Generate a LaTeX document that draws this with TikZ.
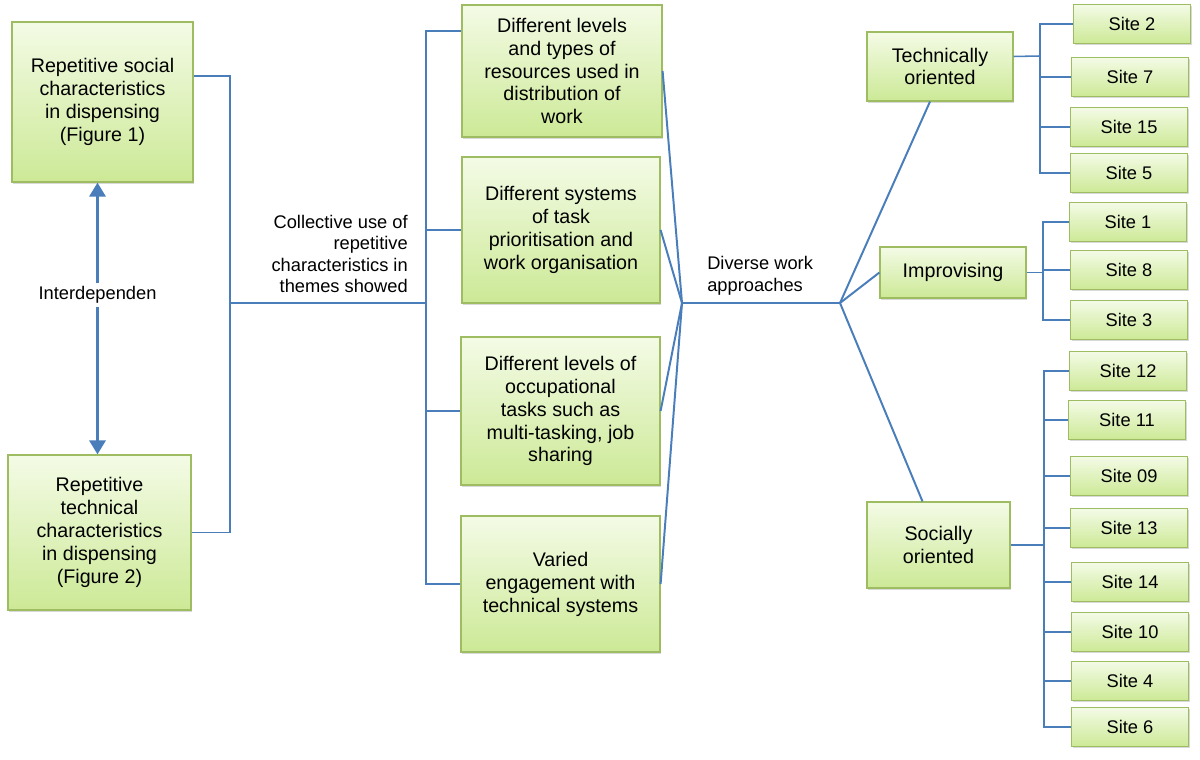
\documentclass[tikz,border=0pt]{standalone}
\usepackage{fontspec}
\setmainfont{Liberation Sans}
\usepackage{xcolor}
\usepackage{tikz}
\usetikzlibrary{shadows,arrows.meta}

\definecolor{boxtop}{RGB}{244,251,230}
\definecolor{boxbot}{RGB}{204,233,150}
\definecolor{boxline}{RGB}{158,188,98}
\definecolor{link}{RGB}{74,126,187}

\begin{document}
\begin{tikzpicture}[x=0.025cm, y=-0.025cm,
    greenbox/.style={draw=boxline, line width=0.8pt, top color=boxtop, bottom color=boxbot,
        drop shadow={opacity=0.3, shadow xshift=0.8pt, shadow yshift=-1.2pt},
        align=center, inner sep=2pt, font=\fontsize{14}{16.3}\selectfont},
    sitebox/.style={greenbox, minimum width=2.925cm, minimum height=0.975cm, font=\fontsize{13}{15}\selectfont},
    lbl/.style={font=\fontsize{13}{15.3}\selectfont},
    wire/.style={link, line width=1.1pt},
    spoke/.style={link, line width=1.4pt},
    both/.style={link, line width=2.2pt, -{Triangle[width=0.4cm,length=0.35cm]}}]
            \useasboundingbox (0,0) rectangle (1200,760);

            % left column
            \node at (102.5,102) [greenbox, minimum width=4.525cm, minimum height=4cm] (l1) {Repetitive social\\characteristics\\in dispensing\\(Figure 1)};
            \node at (99.5,532.5) [greenbox, minimum width=4.575cm, minimum height=3.875cm] (l2) {Repetitive\\technical\\characteristics\\in dispensing\\(Figure 2)};
            \node at (97.5,295) [lbl, fill=white, inner sep=2pt] (idp) {Interdependen};
            \node at (408,254) [lbl, anchor=east, align=right, inner sep=0pt] (cu) {Collective use of\\repetitive\\characteristics in\\themes showed};

            % themes
            \node at (562,71) [greenbox, minimum width=5cm, minimum height=3.3cm] (m1) {Different levels\\and types of\\resources used in\\distribution of\\work};
            \node at (561,230) [greenbox, minimum width=4.95cm, minimum height=3.65cm] (m2) {Different systems\\of task\\prioritisation and\\work organisation};
            \node at (560.5,411) [greenbox, minimum width=4.975cm, minimum height=3.7cm] (m3) {Different levels of\\occupational\\tasks such as\\multi-tasking, job\\sharing};
            \node at (560.5,584) [greenbox, minimum width=4.975cm, minimum height=3.4cm] (m4) {Varied\\engagement with\\technical systems};
            \node at (707,276) [lbl, anchor=west, align=left, inner sep=0pt] (dw) {Diverse work\\approaches};

            % approaches
            \node at (940,66.5) [greenbox, minimum width=3.65cm, minimum height=1.725cm] (tech) {Technically\\oriented};
            \node at (953,272.5) [greenbox, minimum width=3.65cm, minimum height=1.275cm] (imp) {Improvising};
            \node at (938.5,545) [greenbox, minimum width=3.575cm, minimum height=2.15cm] (soc) {Socially\\oriented};

            % sites
            \node at (1132,24) [sitebox] (s2) {Site 2};
            \node at (1130,77) [sitebox] (s7) {Site 7};
            \node at (1129,127) [sitebox] (s15) {Site 15};
            \node at (1129,173) [sitebox] (s5) {Site 5};
            \node at (1128,222) [sitebox] (s1) {Site 1};
            \node at (1129,270) [sitebox] (s8) {Site 8};
            \node at (1129,320) [sitebox] (s3) {Site 3};
            \node at (1128,371) [sitebox] (s12) {Site 12};
            \node at (1127,420) [sitebox] (s11) {Site 11};
            \node at (1129,476) [sitebox] (s09) {Site 09};
            \node at (1129,528) [sitebox] (s13) {Site 13};
            \node at (1130,582) [sitebox] (s14) {Site 14};
            \node at (1130,632) [sitebox] (s10) {Site 10};
            \node at (1130,681) [sitebox] (s4) {Site 4};
            \node at (1130,727) [sitebox] (s6) {Site 6};

            \coordinate (ja) at (230,303);
            \coordinate (jb) at (426,303);
            \coordinate (jc) at (682,303);
            \coordinate (jd) at (840,303);
            \coordinate (tb) at (1040,56);
            \coordinate (ib) at (1043,272.5);
            \coordinate (sb) at (1044,545);

            \draw[both] (idp) -- (idp |- l1.south);
            \draw[both] (idp) -- (idp |- l2.north);

            \draw[wire] ([yshift=0.65cm]l1.east) -| (ja) |- (l2.east);
            \draw[wire] (ja) -- (jb);
            \draw[wire] ([yshift=1cm]m1.west) -| (jb) |- (m4.west);
            \draw[wire] (jb |- m2.west) -- (m2.west);
            \draw[wire] (jb |- m3.west) -- (m3.west);

            \draw[spoke] (m1.east) -- (jc);
            \draw[spoke] (m2.east) -- (jc);
            \draw[spoke] (m3.east) -- (jc);
            \draw[spoke] (m4.east) -- (jc);
            \draw[wire] (jc) -- (jd);
            \draw[spoke] (jd) -- ([xshift=-0.25cm]tech.south);
            \draw[spoke] (jd) -- (imp.west);
            \draw[spoke] (jd) -- ([xshift=-0.4cm]soc.north);

            \draw[wire] ([yshift=0.25cm]tech.east) -- (tb);
            \draw[wire] (s2.west) -| (tb) |- (s5.west);
            \draw[wire] (tb |- s7.west) -- (s7.west);
            \draw[wire] (tb |- s15.west) -- (s15.west);

            \draw[wire] (imp.east) -- (ib);
            \draw[wire] (s1.west) -| (ib) |- (s3.west);
            \draw[wire] (ib |- s8.west) -- (s8.west);

            \draw[wire] (soc.east) -- (sb);
            \draw[wire] (s12.west) -| (sb) |- (s6.west);
            \draw[wire] (sb |- s11.west) -- (s11.west);
            \draw[wire] (sb |- s09.west) -- (s09.west);
            \draw[wire] (sb |- s13.west) -- (s13.west);
            \draw[wire] (sb |- s14.west) -- (s14.west);
            \draw[wire] (sb |- s10.west) -- (s10.west);
            \draw[wire] (sb |- s4.west) -- (s4.west);
        \end{tikzpicture}
\end{document}
